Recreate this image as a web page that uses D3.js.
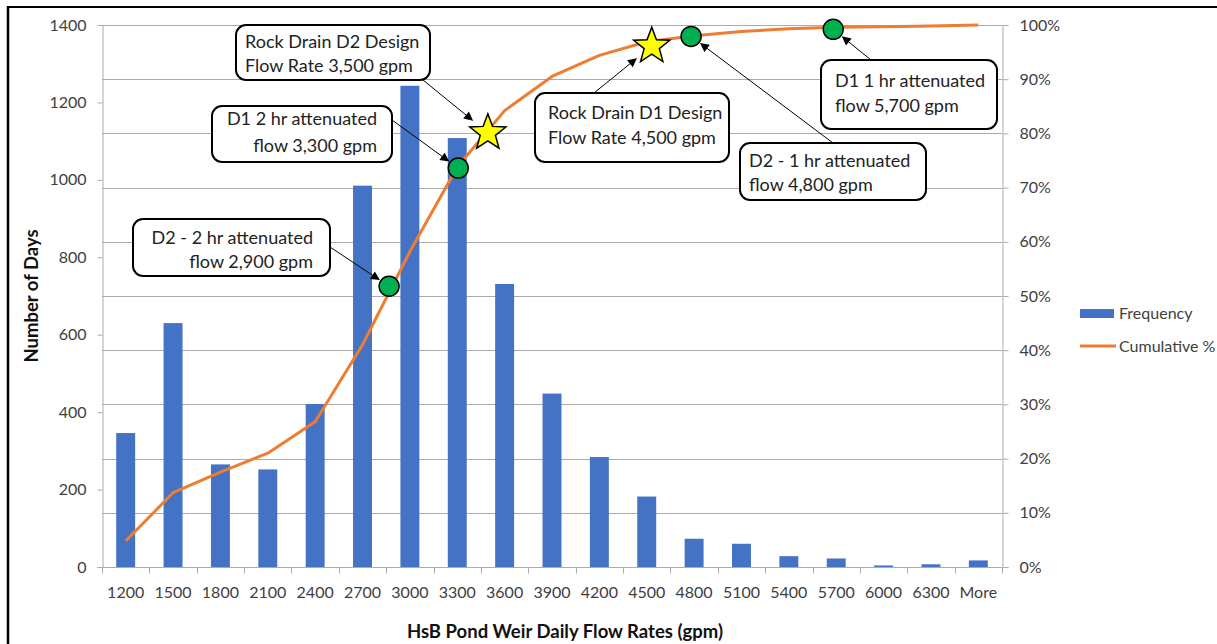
<!DOCTYPE html>
<html>
<head>
<meta charset="utf-8">
<script src="https://cdn.jsdelivr.net/npm/d3@7"></script>
<style>
  html, body { margin: 0; padding: 0; background: #fff; }
  svg { display: block; font-family: Lato, "Open Sans", sans-serif; }
</style>
</head>
<body>
<svg id="chart" width="1217" height="644"></svg>
<script>
// ---- data ----
const categories = ["1200","1500","1800","2100","2400","2700","3000","3300","3600","3900","4200","4500","4800","5100","5400","5700","6000","6300","More"];
const frequency = [346, 630, 265, 252, 421, 985, 1243, 1108, 731, 448, 284, 182, 73, 60, 28, 22, 4, 7, 17];
const cumulative = [0.048, 0.137, 0.175, 0.210, 0.268, 0.410, 0.582, 0.738, 0.842, 0.905, 0.944, 0.969, 0.980, 0.988, 0.993, 0.996, 0.997, 0.998, 1.000];
const leftTicks = [0, 200, 400, 600, 800, 1000, 1200, 1400];
const rightTicks = [0, 0.1, 0.2, 0.3, 0.4, 0.5, 0.6, 0.7, 0.8, 0.9, 1.0];
const markerFlow = [2900, 3300, 3500, 4500, 4800, 5700];
const markerPct = [0.518, 0.736, 0.801, 0.961, 0.979, 0.992];
const markerShape = ["circle", "circle", "star", "star", "circle", "circle"];
const calloutText = [
  ["D2 - 2 hr attenuated", "flow 2,900 gpm"],
  ["D1 2 hr attenuated", "flow 3,300 gpm"],
  ["Rock Drain D2 Design", "Flow Rate 3,500 gpm"],
  ["Rock Drain D1 Design", "Flow Rate 4,500 gpm"],
  ["D2 - 1 hr attenuated", "flow 4,800 gpm"],
  ["D1 1 hr attenuated", "flow 5,700 gpm"]
];
const seriesNames = ["Frequency", "Cumulative %"];
const xTitle = "HsB Pond Weir Daily Flow Rates (gpm)";
const yTitle = "Number of Days";

// ---- layout (styles / positions) ----
const plot = { left: 102, right: 1002, top: 25, bottom: 567 };
const markerNudge = [-5, 1, -1, 5, -3, -3];
const calloutLayout = [
  { x: 133, y: 219, w: 197, h: 57, align: "end",   tx: 313, l1: 238, l2: 262, ax: 330, ay: 247 },
  { x: 212, y: 106, w: 180, h: 56, align: "end",   tx: 377, l1: 119, l2: 146, ax: 392, ay: 120 },
  { x: 236, y: 25,  w: 194, h: 55, align: "start", tx: 245, l1: 42,  l2: 66,  ax: 423, ay: 80 },
  { x: 535, y: 93,  w: 194, h: 69, align: "start", tx: 548, l1: 113, l2: 138, ax: 594, ay: 93 },
  { x: 740, y: 143, w: 186, h: 57, align: "start", tx: 749, l1: 161, l2: 185, ax: 833, ay: 143 },
  { x: 821, y: 60,  w: 176, h: 69, align: "start", tx: 835, l1: 81,  l2: 106, ax: 871, ay: 60 }
];

const svg = d3.select("#chart");
const tickColor = "#404040";
const gridColor = "#ABABAB";

// frame
svg.append("line").attr("x1", 8).attr("x2", 1217).attr("y1", 7).attr("y2", 7).attr("stroke", "#000").attr("stroke-width", 2);
svg.append("line").attr("x1", 8).attr("x2", 8).attr("y1", 6).attr("y2", 644).attr("stroke", "#000").attr("stroke-width", 2.5);

const x = d3.scaleBand().domain(categories).range([plot.left, plot.right]).paddingInner(0.6).paddingOuter(0.3);
const step = x.step();
const yL = d3.scaleLinear().domain([0, 1400]).range([plot.bottom, plot.top]);
const yR = d3.scaleLinear().domain([0, 1]).range([plot.bottom, plot.top]);
const center = c => x(c) + x.bandwidth() / 2;
const xFlow = d3.scaleLinear().domain([1200, 6300]).range([center("1200"), center("6300")]);

// gridlines (on right axis ticks)
svg.append("g").selectAll("line").data(rightTicks.slice(1)).join("line")
  .attr("x1", plot.left).attr("x2", plot.right)
  .attr("y1", d => Math.round(yR(d)) + 0.5).attr("y2", d => Math.round(yR(d)) + 0.5)
  .attr("stroke", gridColor).attr("stroke-width", 1);

// left axis
const gL = svg.append("g").attr("transform", `translate(${plot.left + 0.5},0)`)
  .call(d3.axisLeft(yL).tickValues(leftTicks).tickFormat(d3.format("d")).tickSize(5).tickPadding(11));
gL.select(".domain").attr("stroke", gridColor);
gL.selectAll(".tick line").attr("stroke", gridColor);
gL.selectAll(".tick text").attr("fill", tickColor).attr("font-size", 16).attr("font-family", "Lato");

// right axis
const gR = svg.append("g").attr("transform", `translate(${plot.right + 0.5},0)`)
  .call(d3.axisRight(yR).tickValues(rightTicks).tickFormat(d3.format(".0%")).tickSize(6).tickPadding(11));
gR.select(".domain").attr("stroke", gridColor);
gR.selectAll(".tick line").attr("stroke", gridColor);
gR.selectAll(".tick text").attr("fill", tickColor).attr("font-size", 16).attr("font-family", "Lato");

// bars
svg.append("g").selectAll("rect").data(categories).join("rect")
  .attr("x", d => x(d)).attr("width", x.bandwidth())
  .attr("y", (d, i) => yL(frequency[i])).attr("height", (d, i) => yL(0) - yL(frequency[i]))
  .attr("fill", "#4472C4");

// bottom axis
const gB = svg.append("g").attr("transform", `translate(0,${plot.bottom + 0.5})`);
gB.append("line").attr("x1", plot.left).attr("x2", plot.right).attr("stroke", gridColor);
gB.selectAll("line.tk").data(d3.range(categories.length + 1)).join("line").attr("class", "tk")
  .attr("x1", i => Math.round(plot.left + i * step) + 0.5).attr("x2", i => Math.round(plot.left + i * step) + 0.5)
  .attr("y1", 0).attr("y2", 6).attr("stroke", gridColor);
gB.selectAll("text").data(categories).join("text")
  .attr("x", d => center(d)).attr("y", 25).attr("dy", "0.35em")
  .attr("text-anchor", "middle").attr("font-size", 16).attr("fill", tickColor).text(d => d);

// cumulative line
const line = d3.line().x((d, i) => center(categories[i])).y(d => yR(d));
svg.append("path").datum(cumulative).attr("d", line)
  .attr("fill", "none").attr("stroke", "#ED7D31").attr("stroke-width", 3).attr("stroke-linejoin", "round");

// axis titles
svg.append("text").attr("transform", `translate(32,296) rotate(-90)`)
  .attr("text-anchor", "middle").attr("dy", "0.35em").attr("font-weight", "bold").attr("font-size", 18.5).attr("fill", "#111").text(yTitle);
svg.append("text").attr("x", 565).attr("y", 632).attr("dy", "0.35em")
  .attr("text-anchor", "middle").attr("font-weight", "bold").attr("font-size", 18.5).attr("fill", "#111").text(xTitle);

// legend
svg.append("rect").attr("x", 1080).attr("y", 309).attr("width", 34).attr("height", 9).attr("fill", "#4472C4");
svg.append("line").attr("x1", 1080).attr("x2", 1116).attr("y1", 346).attr("y2", 346).attr("stroke", "#ED7D31").attr("stroke-width", 3);
svg.append("text").attr("x", 1119).attr("y", 313).attr("dy", "0.35em").attr("font-size", 16).attr("fill", tickColor).text(seriesNames[0]);
svg.append("text").attr("x", 1119).attr("y", 346).attr("dy", "0.35em").attr("font-size", 16).attr("fill", tickColor).text(seriesNames[1]);

// arrow marker
svg.append("defs").append("marker").attr("id", "arr").attr("viewBox", "0 0 10 10")
  .attr("refX", 9).attr("refY", 5).attr("markerWidth", 10).attr("markerHeight", 9)
  .attr("markerUnits", "userSpaceOnUse").attr("orient", "auto")
  .append("path").attr("d", "M0,0 L10,5 L0,10 z").attr("fill", "#000");

// callouts
const markerPos = markerFlow.map((f, i) => ({ cx: xFlow(f) + markerNudge[i], cy: yR(markerPct[i]), shape: markerShape[i] }));
calloutLayout.forEach((c, i) => {
  const m = markerPos[i];
  const r = m.shape === "star" ? 20 : 12;
  const dx = m.cx - c.ax, dy = m.cy - c.ay, len = Math.hypot(dx, dy);
  const ex = m.cx - dx / len * r, ey = m.cy - dy / len * r;
  svg.append("line").attr("x1", c.ax).attr("y1", c.ay).attr("x2", ex).attr("y2", ey)
    .attr("stroke", "#000").attr("stroke-width", 1).attr("marker-end", "url(#arr)");
});
calloutLayout.forEach((c, i) => {
  svg.append("rect").attr("x", c.x).attr("y", c.y).attr("width", c.w).attr("height", c.h)
    .attr("rx", 10).attr("fill", "#fff").attr("stroke", "#000").attr("stroke-width", 2);
  [c.l1, c.l2].forEach((ly, j) => {
    svg.append("text").attr("x", c.tx).attr("y", ly).attr("dy", "0.35em")
      .attr("text-anchor", c.align).attr("font-size", 18).attr("fill", "#222").text(calloutText[i][j]);
  });
});

// markers
const star = (cx, cy, R, ri) => {
  const pts = [];
  for (let k = 0; k < 10; k++) {
    const a = -Math.PI / 2 + k * Math.PI / 5;
    const rr = k % 2 === 0 ? R : ri;
    pts.push([cx + rr * Math.cos(a), cy + rr * Math.sin(a)]);
  }
  return "M" + pts.map(p => p.join(",")).join("L") + "Z";
};
markerPos.forEach(m => {
  if (m.shape === "circle") {
    svg.append("circle").attr("cx", m.cx).attr("cy", m.cy).attr("r", 10)
      .attr("fill", "#00B050").attr("stroke", "#000").attr("stroke-width", 1.5);
  } else {
    svg.append("path").attr("d", star(m.cx, m.cy, 19, 8))
      .attr("fill", "#FFFF00").attr("stroke", "#000").attr("stroke-width", 1.5);
  }
});
</script>
</body>
</html>
